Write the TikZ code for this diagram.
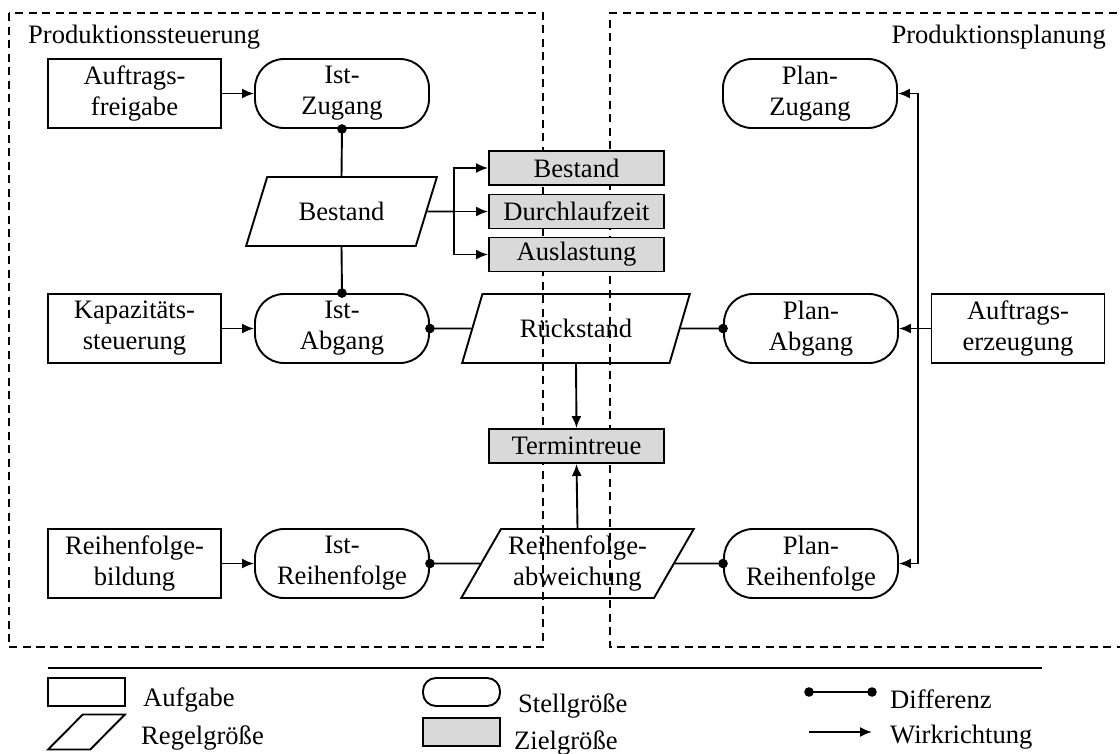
\documentclass[tikz,border=0pt]{standalone}
\usepackage{fontspec}
\setmainfont{Liberation Serif}
\usetikzlibrary{shapes.geometric,arrows.meta}
\definecolor{zielgrau}{HTML}{D9D9D9}
\tikzset{
  base/.style={draw, line width=1.9pt, inner sep=0pt, align=center},
  aufgabe/.style={base, rectangle, minimum width=173pt, minimum height=69pt},
  stell/.style={base, rectangle, rounded corners=29pt, minimum width=174pt, minimum height=69pt},
  regel/.style={base, trapezium, trapezium left angle=57, trapezium right angle=123,
    trapezium stretches=true, minimum height=69pt},
  ziel/.style={base, rectangle, fill=zielgrau, minimum width=175pt, minimum height=34pt},
  conn/.style={line width=1.9pt},
  pfeil/.style={conn, -{Latex[length=12pt,width=10pt]}},
  grenze/.style={line width=1.7pt, dash pattern=on 8pt off 5.5pt},
  punkt/.style={radius=4.8pt},
  lgtext/.style={anchor=west, inner sep=0pt},
}
\begin{document}
\begin{tikzpicture}[x=1pt,y=-1pt,font=\fontsize{26.6}{31}\selectfont]
\useasboundingbox (0,0) rectangle (1120,753);

% area frames
\draw[grenze] (9,13) rectangle (543,647);
\draw[grenze] (1130,13) -- (610,13) -- (610,647) -- (1130,647);
\node[anchor=west, inner sep=0pt] (lsteu) at (28,37) {Produktionssteuerung};
\node[anchor=east, inner sep=0pt] (lplan) at (1106,37) {Produktionsplanung};

% left column: tasks
\node[aufgabe] (afg) at (134.5,93.5) {Auftrags-\\freigabe};
\node[aufgabe] (kap) at (134.5,328.5) {Kapazitäts-\\steuerung};
\node[aufgabe] (rfb) at (134.5,563.5) {Reihenfolge-\\bildung};

% actual values
\node[stell] (izu) at (342,93.5) {Ist-\\Zugang};
\node[stell] (iab) at (342,328.5) {Ist-\\Abgang};
\node[stell] (irf) at (342,563.5) {Ist-\\Reihenfolge};

% controlled variables
\node[regel, minimum width=191pt] (bst) at (341.5,211.5) {Bestand};
\node[regel, minimum width=228pt] (rue) at (576,328.5) {Rückstand};
\node[regel, minimum width=233pt] (rfa) at (577.5,563.5) {Reihenfolge-\\abweichung};

% target variables
\node[ziel] (zb) at (576.5,168) {Bestand};
\node[ziel] (zd) at (576.5,211.5) {Durchlaufzeit};
\node[ziel] (za) at (576.5,254.5) {Auslastung};
\node[ziel] (zt) at (576.5,446) {Termintreue};

% planned values
\node[stell] (pzu) at (810,93.5) {Plan-\\Zugang};
\node[stell] (pab) at (811,328.5) {Plan-\\Abgang};
\node[stell] (prf) at (811,563.5) {Plan-\\Reihenfolge};
\node[aufgabe] (aez) at (1018,328.5) {Auftrags-\\erzeugung};

% effect connectors
\draw[pfeil] (afg) -- (izu);
\draw[pfeil] (kap) -- (iab);
\draw[pfeil] (rfb) -- (irf);
\coordinate (bj) at (454,211.5);
\draw[conn] (bst.east) -- (bj);
\draw[pfeil] (bj) |- (zb.west);
\draw[pfeil] (bj) -- (zd.west);
\draw[pfeil] (bj) |- (za.west);
\draw[pfeil] (rue.south) -- (zt.north);
\draw[pfeil] (rfa.north) -- (zt.south);
\coordinate (pj) at (918,328.5);
\draw[pfeil] (aez.west) -- (pab.east);
\draw[pfeil] (pj) |- (pzu.east);
\draw[pfeil] (pj) |- (prf.east);

% difference connectors
\draw[conn] (izu.south) -- (bst.north);
\draw[conn] (bst.south) -- (iab.north);
\draw[conn] (iab.east) -- (rue.west);
\draw[conn] (rue.east) -- (pab.west);
\draw[conn] (irf.east) -- (rfa.west);
\draw[conn] (rfa.east) -- (prf.west);
\fill[punkt] (izu.south) circle;
\fill[punkt] (iab.north) circle;
\fill[punkt] (iab.east) circle;
\fill[punkt] (pab.west) circle;
\fill[punkt] (irf.east) circle;
\fill[punkt] (prf.west) circle;

% legend
\draw[line width=1.5pt] (48,668) -- (1042,668);
\node[base, rectangle, minimum width=77pt, minimum height=28pt] (lga) at (86.5,692) {};
\node[lgtext] (lgat) at (143,700) {Aufgabe};
\node[base, inner sep=2pt, trapezium, trapezium left angle=62, trapezium right angle=118,
  trapezium stretches=true, minimum width=77pt, minimum height=28pt] (lgr) at (86.5,732) {\strut};
\node[lgtext] (lgrt) at (141,738) {Regelgröße};
\node[base, rectangle, rounded corners=13pt, minimum width=77pt, minimum height=28pt] (lgs) at (461.5,692) {};
\node[lgtext] (lgst) at (518,706) {Stellgröße};
\node[base, rectangle, fill=zielgrau, minimum width=77pt, minimum height=28pt] (lgz) at (461.5,732) {};
\node[lgtext] (lgzt) at (514,743) {Zielgröße};
\coordinate (ld1) at (809,692);
\coordinate (ld2) at (872,692);
\draw[conn] (ld1) -- (ld2);
\fill[punkt] (ld1) circle;
\fill[punkt] (ld2) circle;
\node[lgtext] (lgdt) at (890,699) {Differenz};
\coordinate (lw1) at (809,732);
\coordinate (lw2) at (872,732);
\draw[pfeil] (lw1) -- (lw2);
\node[lgtext] (lgwt) at (890,737) {Wirkrichtung};
\end{tikzpicture}
\end{document}
